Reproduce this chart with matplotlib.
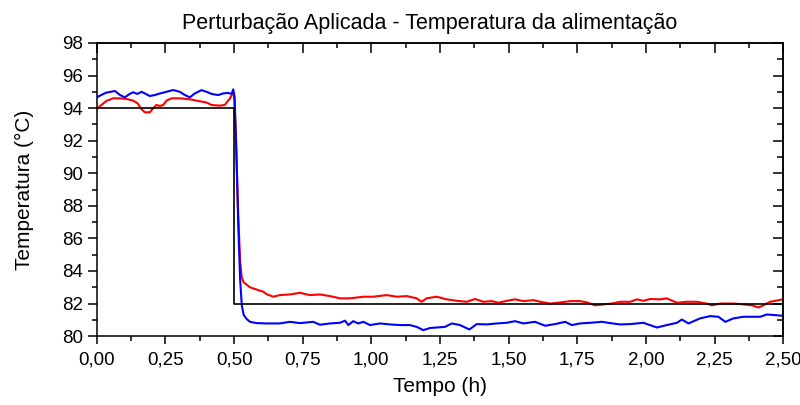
import numpy as np
import matplotlib
matplotlib.use("Agg")
import matplotlib.pyplot as plt
from matplotlib.ticker import MultipleLocator, FuncFormatter

plt.rcParams["font.family"] = ["Liberation Sans", "DejaVu Sans"]

# setpoint (degrau aplicado em t = 0,5 h)
t_set = [0.0, 0.5, 0.5, 2.5]
T_set = [94.0, 94.0, 82.0, 82.0]

# resposta - curva vermelha
t_red = [0.000, 0.017, 0.035, 0.060, 0.084, 0.108, 0.132, 0.148, 0.163, 0.175,
         0.193, 0.205, 0.217, 0.230, 0.242, 0.254, 0.272, 0.302, 0.339, 0.363,
         0.400, 0.418, 0.448, 0.466, 0.485, 0.497, 0.500, 0.507, 0.515, 0.522,
         0.528, 0.535, 0.558, 0.570, 0.594, 0.606, 0.618, 0.643, 0.667, 0.703,
         0.740, 0.776, 0.813, 0.849, 0.886, 0.922, 0.971, 1.007, 1.056, 1.093,
         1.129, 1.165, 1.183, 1.201, 1.238, 1.274, 1.311, 1.347, 1.378, 1.408,
         1.439, 1.463, 1.493, 1.523, 1.554, 1.590, 1.615, 1.651, 1.688, 1.724,
         1.760, 1.785, 1.815, 1.846, 1.876, 1.906, 1.943, 1.967, 1.991, 2.016,
         2.052, 2.076, 2.113, 2.149, 2.185, 2.222, 2.240, 2.270, 2.319, 2.355,
         2.386, 2.410, 2.428, 2.452, 2.500]
T_red = [93.95, 94.19, 94.44, 94.60, 94.60, 94.56, 94.46, 94.30, 93.93, 93.74,
         93.74, 93.99, 94.19, 94.13, 94.19, 94.46, 94.60, 94.60, 94.54, 94.46,
         94.34, 94.19, 94.15, 94.19, 94.60, 94.95, 94.90, 92.00, 87.50, 84.60,
         83.60, 83.30, 83.00, 82.93, 82.79, 82.73, 82.58, 82.42, 82.52, 82.56,
         82.66, 82.52, 82.56, 82.46, 82.32, 82.32, 82.42, 82.42, 82.52, 82.42,
         82.46, 82.32, 82.11, 82.32, 82.42, 82.26, 82.17, 82.11, 82.28, 82.11,
         82.15, 82.05, 82.17, 82.26, 82.15, 82.21, 82.11, 82.00, 82.07, 82.15,
         82.15, 82.07, 81.89, 81.95, 82.00, 82.11, 82.11, 82.26, 82.17, 82.28,
         82.26, 82.32, 82.05, 82.11, 82.11, 82.00, 81.89, 82.00, 82.00, 81.95,
         81.89, 81.76, 81.89, 82.11, 82.26]

# resposta - curva azul
t_blue = [0.000, 0.017, 0.035, 0.066, 0.084, 0.102, 0.120, 0.132, 0.148, 0.163,
          0.175, 0.193, 0.211, 0.230, 0.254, 0.278, 0.302, 0.321, 0.339, 0.357,
          0.381, 0.400, 0.418, 0.442, 0.460, 0.479, 0.491, 0.497, 0.502, 0.508,
          0.515, 0.522, 0.528, 0.535, 0.546, 0.558, 0.582, 0.618, 0.667, 0.703,
          0.740, 0.788, 0.813, 0.849, 0.886, 0.904, 0.916, 0.934, 0.952, 0.971,
          0.995, 1.031, 1.068, 1.104, 1.140, 1.165, 1.189, 1.214, 1.238, 1.268,
          1.293, 1.323, 1.357, 1.384, 1.420, 1.457, 1.493, 1.523, 1.554, 1.596,
          1.633, 1.669, 1.706, 1.730, 1.760, 1.797, 1.840, 1.870, 1.906, 1.943,
          1.991, 2.040, 2.076, 2.113, 2.131, 2.155, 2.197, 2.234, 2.264, 2.289,
          2.319, 2.355, 2.392, 2.416, 2.441, 2.500]
T_blue = [94.66, 94.81, 94.95, 95.05, 94.81, 94.66, 94.87, 94.97, 94.87, 95.00,
          94.90, 94.74, 94.80, 94.90, 95.00, 95.11, 95.00, 94.80, 94.66, 94.90,
          95.10, 95.00, 94.87, 94.80, 94.90, 94.93, 94.87, 95.15, 94.60, 91.50,
          87.00, 83.50, 81.90, 81.30, 81.05, 80.88, 80.80, 80.78, 80.78, 80.88,
          80.80, 80.88, 80.70, 80.78, 80.82, 80.95, 80.68, 80.92, 80.78, 80.88,
          80.68, 80.78, 80.72, 80.68, 80.68, 80.57, 80.37, 80.50, 80.53, 80.57,
          80.78, 80.68, 80.41, 80.74, 80.72, 80.78, 80.82, 80.92, 80.78, 80.88,
          80.64, 80.74, 80.88, 80.68, 80.78, 80.82, 80.88, 80.80, 80.72, 80.74,
          80.82, 80.53, 80.68, 80.82, 81.02, 80.78, 81.09, 81.23, 81.19, 80.88,
          81.09, 81.19, 81.19, 81.19, 81.33, 81.25]

fig = plt.figure(figsize=(8, 4.05), dpi=100)
ax = fig.add_axes([0.121, 0.170, 0.858, 0.724])

ax.plot(t_red, T_red, color="#ff0000", lw=1.5)
ax.plot(t_blue, T_blue, color="#0000ff", lw=1.5)
ax.plot(t_set, T_set, color="black", lw=1.2)

ax.set_xlim(0, 2.5)
ax.set_ylim(80, 98)

ax.xaxis.set_major_locator(MultipleLocator(0.25))
ax.xaxis.set_minor_locator(MultipleLocator(0.125))
ax.yaxis.set_major_locator(MultipleLocator(2))
ax.yaxis.set_minor_locator(MultipleLocator(1))
ax.xaxis.set_major_formatter(FuncFormatter(lambda v, p: f"{v:.2f}".replace(".", ",")))
ax.yaxis.set_major_formatter(FuncFormatter(lambda v, p: f"{v:.0f}"))

for s in ax.spines.values():
    s.set_linewidth(1.1)

ax.tick_params(axis="both", which="major", direction="out", width=1.1, labelsize=13.5)
ax.tick_params(axis="x", which="major", length=5.8, pad=5)
ax.tick_params(axis="x", which="minor", length=3.5, width=1.1, direction="out")
ax.tick_params(axis="y", which="major", length=6.5, pad=3.6)
ax.tick_params(axis="y", which="minor", length=3.5, width=1.1, direction="out")

# eixos espelhados: topo e direita com marcas para dentro, sem rótulos
top = ax.secondary_xaxis("top")
top.xaxis.set_major_locator(MultipleLocator(0.25))
top.xaxis.set_minor_locator(MultipleLocator(0.125))
top.tick_params(which="major", direction="in", length=7, width=1.1, labeltop=False)
top.tick_params(which="minor", direction="in", length=3.5, width=1.1)
top.spines["top"].set_linewidth(1.1)

right = ax.secondary_yaxis("right")
right.yaxis.set_major_locator(MultipleLocator(2))
right.yaxis.set_minor_locator(MultipleLocator(1))
right.tick_params(which="major", direction="in", length=7, width=1.1, labelright=False)
right.tick_params(which="minor", direction="in", length=4.5, width=1.1)
right.spines["right"].set_linewidth(1.1)

ax.set_xlabel("Tempo (h)", fontsize=15, labelpad=6.5)
ax.set_ylabel("Temperatura (°C)", fontsize=15, labelpad=20)
fig.text(430 / 800, 1 - 29 / 405, "Perturbação Aplicada - Temperatura da alimentação",
         fontsize=15.5, ha="center", va="baseline")

fig.savefig("out.png", dpi=100)
